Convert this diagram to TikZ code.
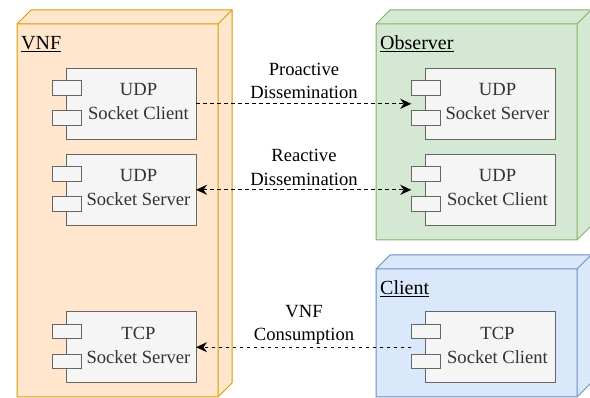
\documentclass[tikz,border=0pt]{standalone}
\usepackage{fontspec}
\setmainfont{Liberation Serif}
\usetikzlibrary{arrows.meta}

\definecolor{vnfFill}{HTML}{FFE6CC}
\definecolor{vnfLine}{HTML}{D79B00}
\definecolor{obsFill}{HTML}{D5E8D4}
\definecolor{obsLine}{HTML}{82B366}
\definecolor{cliFill}{HTML}{DAE8FC}
\definecolor{cliLine}{HTML}{6C8EBF}
\definecolor{compFill}{HTML}{F5F5F5}
\definecolor{compLine}{HTML}{666666}
\definecolor{compText}{HTML}{333333}

\tikzset{
  comp/.style={draw=compLine, fill=compFill, line width=1pt, minimum width=129.3pt,
    minimum height=71pt, inner sep=0pt, outer sep=0pt},
  comptab/.style={draw=compLine, fill=compFill, line width=1pt, minimum width=29pt,
    minimum height=14.5pt, inner sep=0pt, outer sep=0pt},
  comptext/.style={text=compText, align=center, font=\fontsize{18.6}{24.3}\selectfont, inner sep=0pt},
  title/.style={anchor=base west, font=\fontsize{20}{22}\selectfont, inner sep=0pt},
  edgetext/.style={align=center, font=\fontsize{18.6}{23.5}\selectfont, inner sep=0pt, text=black},
  flow/.style={line width=1.3pt, dash pattern=on 3.5pt off 3.5pt,
    -{Stealth[length=11pt,width=10pt,inset=3.5pt]}},
  biflow/.style={line width=1.3pt, dash pattern=on 3.5pt off 3.5pt,
    {Stealth[length=11pt,width=10pt,inset=3.5pt]}-{Stealth[length=11pt,width=10pt,inset=3.5pt]}},
}

% 3D device box: front face (#1,#2)-(#3,#4), depth 14
\newcommand\devicebox[7]{%
  \filldraw[fill=#5, draw=#6, line width=1pt, line join=miter]
    (#1,#2) -- (#1+14,#2-14) -- (#3+14,#2-14) -- (#3+14,#4-14) -- (#3,#4) -- (#1,#4) -- cycle;
  \draw[#6, line width=1pt] (#1,#2) -- (#3,#2) -- (#3,#4) (#3,#2) -- (#3+14,#2-14);
  \path (#1,#2) coordinate (#7-nw) (#3,#4) coordinate (#7-se);
}

% component: main box top-left at (#1,#2), name #3, text #4
\newcommand\component[4]{%
  \node[comp, anchor=north west] (#3) at (#1,#2) {};
  \node[comptab, anchor=north west] (#3-t1) at (#1-14.4,#2+12.7) {};
  \node[comptab, anchor=north west] (#3-t2) at (#1-14.4,#2+42.7) {};
  \node[comptext] (#3-l) at (#1+71.8,#2+33.4) {#4};
}

\begin{document}
\begin{tikzpicture}[x=1pt, y=-1pt]
\useasboundingbox (0,0) rectangle (590,398);

% devices
\devicebox{17}{24}{218}{397}{vnfFill}{vnfLine}{vnf}
\devicebox{376}{24}{577}{240}{obsFill}{obsLine}{obs}
\devicebox{376}{269}{577}{397}{cliFill}{cliLine}{cli}

\node[title] (vnftitle) at (21,50) {\underline{VNF}};
\node[title] (obstitle) at (380,50) {\underline{Observer}};
\node[title] (clititle) at (380,295) {\underline{Client}};

% components
\component{66.7}{68.3}{vc}{UDP\\Socket Client}
\component{66.7}{154.3}{vs}{UDP\\Socket Server}
\component{66.7}{311.7}{ts}{TCP\\Socket Server}
\component{425.7}{68.3}{os}{UDP\\Socket Server}
\component{425.7}{154.3}{oc}{UDP\\Socket Client}
\component{425.7}{311.7}{cc}{TCP\\Socket Client}

% connectors
\draw[flow] (vc.east) -- (vc.east -| os-t1.west) coordinate (pend);
\draw[biflow] (vs.east) -- (vs.east -| oc-t1.west) coordinate (rend);
\draw[flow] (cc.west -| cc-t1.west) coordinate (cstart) -- (ts.east);

\node[edgetext] (plab) at (304,81) {Proactive\\Dissemination};
\node[edgetext] (rlab) at (304,167.4) {Reactive\\Dissemination};
\node[edgetext] (clab) at (304,325) {VNF\\Consumption};
\end{tikzpicture}
\end{document}
